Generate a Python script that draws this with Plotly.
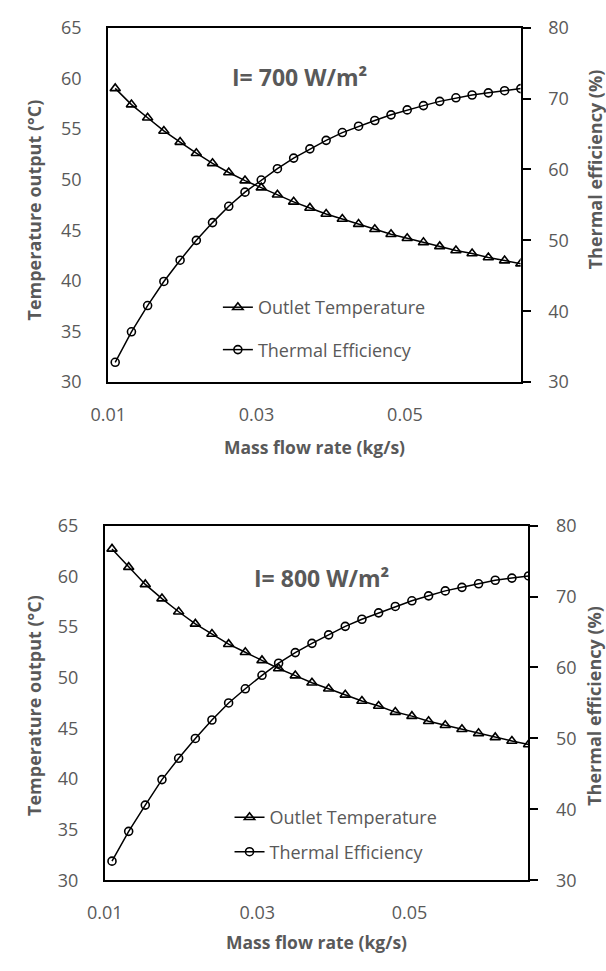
import plotly.graph_objects as go

# ---------------- data ----------------
mass_flow = [0.01094, 0.01313, 0.01531, 0.01750, 0.01969, 0.02188, 0.02406, 0.02625,
             0.02844, 0.03063, 0.03281, 0.03500, 0.03719, 0.03938, 0.04156, 0.04375,
             0.04594, 0.04813, 0.05031, 0.05250, 0.05469, 0.05688, 0.05906, 0.06125,
             0.06344, 0.06563]

temp_700 = [59.0, 57.4, 56.1, 54.8, 53.7, 52.6, 51.6, 50.7, 49.9, 49.2, 48.5, 47.8, 47.2,
            46.6, 46.1, 45.6, 45.1, 44.6, 44.2, 43.8, 43.4, 43.0, 42.7, 42.3, 42.0, 41.7]
eff_700 = [32.8, 37.1, 40.8, 44.2, 47.2, 50.0, 52.5, 54.8, 56.8, 58.5, 60.1, 61.6, 62.9,
           64.1, 65.2, 66.1, 66.9, 67.7, 68.4, 69.0, 69.6, 70.1, 70.5, 70.8, 71.1, 71.4]

temp_800 = [62.7, 60.9, 59.2, 57.8, 56.5, 55.3, 54.3, 53.3, 52.5, 51.7, 50.9, 50.2, 49.5,
            48.9, 48.3, 47.7, 47.2, 46.6, 46.2, 45.7, 45.3, 44.9, 44.5, 44.1, 43.75, 43.4]
eff_800 = [32.7, 36.9, 40.6, 44.2, 47.2, 50.0, 52.6, 55.0, 57.0, 58.9, 60.6, 62.1, 63.4,
           64.6, 65.8, 66.8, 67.7, 68.6, 69.4, 70.1, 70.8, 71.3, 71.8, 72.3, 72.6, 72.9]

x_ticks = [0.01, 0.03, 0.05]
x_tick_labels = ["0.01", "0.03", "0.05"]
temp_ticks = [30, 35, 40, 45, 50, 55, 60, 65]
eff_ticks = [30, 40, 50, 60, 70, 80]

series_names = ["Outlet Temperature", "Thermal Efficiency"]
panel_labels = ["I= 700 W/m²", "I= 800 W/m²"]
x_title = "Mass flow rate (kg/s)"
y_left_title = "Temperature output (°C)"
y_right_title = "Thermal efficiency (%)"

# ---------------- style ----------------
W, H = 606, 971
GRAY = "#595959"
FONT = "Open Sans"
TICK_SIZE = 18


def fx(px):
    return px / W


def fy(px):
    return 1 - px / H


fig = go.Figure()

panels = [
    dict(temp=temp_700, eff=eff_700, xa="x", ya="y", ya2="y2", legend="legend"),
    dict(temp=temp_800, eff=eff_800, xa="x2", ya="y3", ya2="y4", legend="legend2"),
]

for p in panels:
    fig.add_trace(go.Scatter(
        x=mass_flow, y=p["temp"], xaxis=p["xa"], yaxis=p["ya"],
        mode="lines+markers", name=series_names[0], legend=p["legend"],
        legendgroup=p["legend"] + "a",
        line=dict(color="black", width=1.5),
        marker=dict(symbol="triangle-up-open", size=9, color="black",
                    line=dict(color="black", width=1.6)),
    ))
    fig.add_trace(go.Scatter(
        x=mass_flow, y=p["eff"], xaxis=p["xa"], yaxis=p["ya2"],
        mode="lines+markers", name=series_names[1], legend=p["legend"],
        legendgroup=p["legend"] + "b",
        line=dict(color="black", width=1.5),
        marker=dict(symbol="circle-open", size=8, color="black",
                    line=dict(color="black", width=1.6)),
    ))

tickfont = dict(family=FONT, size=TICK_SIZE, color=GRAY)


def xaxis(domain, anchor):
    return dict(domain=domain, anchor=anchor, range=[0.01, 0.0656],
                tickvals=x_ticks, ticktext=x_tick_labels, tickfont=tickfont,
                showline=True, linecolor="black", linewidth=2, mirror=True,
                ticks="", showgrid=False, zeroline=False, ticklabelstandoff=15)


def yleft(domain, anchor):
    return dict(domain=domain, anchor=anchor, range=[30, 65], tickvals=temp_ticks,
                tickfont=tickfont, showline=True, linecolor="black", linewidth=2,
                ticks="", showgrid=False, zeroline=False, ticklabelstandoff=21)


def yright(overlay, anchor):
    return dict(overlaying=overlay, anchor=anchor, side="right", range=[30, 80],
                tickvals=eff_ticks, tickfont=tickfont, showline=True,
                linecolor="black", linewidth=2, ticks="outside", ticklen=8,
                tickwidth=2, tickcolor="black", showgrid=False, zeroline=False,
                ticklabelstandoff=14)


top_x = [fx(93), fx(518)]
top_y = [fy(378.5), fy(15)]
bot_x = [fx(89.5), fx(526)]
bot_y = [fy(889.3), fy(525.6)]

legend_common = dict(xanchor="left", yanchor="top", bgcolor="rgba(0,0,0,0)",
                     font=dict(family=FONT, size=TICK_SIZE, color=GRAY),
                     borderwidth=0)

fig.update_layout(
    width=W, height=H,
    margin=dict(l=0, r=0, t=0, b=0),
    paper_bgcolor="white", plot_bgcolor="white",
    xaxis=xaxis(top_x, "y"),
    yaxis=yleft(top_y, "x"),
    yaxis2=yright("y", "x"),
    xaxis2=xaxis(bot_x, "y3"),
    yaxis3=yleft(bot_y, "x2"),
    yaxis4=yright("y3", "x2"),
    legend=dict(x=fx(206), y=fy(283), tracegroupgap=16, **legend_common),
    legend2=dict(x=fx(218), y=fy(806), tracegroupgap=8, **legend_common),
    showlegend=True,
)

xtitle_font = dict(family=FONT, size=17.5, color=GRAY)
ytitle_font = dict(family=FONT, size=18, color=GRAY)
label_font = dict(family=FONT, size=23, color=GRAY)
ann = []
common = dict(xref="paper", yref="paper", showarrow=False,
              xanchor="center", yanchor="middle")
# panel labels
ann.append(dict(text="<b>" + panel_labels[0] + "</b>", x=fx(290), y=fy(66),
                font=label_font, **common))
ann.append(dict(text="<b>" + panel_labels[1] + "</b>", x=fx(313), y=fy(579),
                font=label_font, **common))
# axis titles
for cx, ty_left, ty_right, ty_x, lx, rx in [
        ((93 + 518) / 2, 202, 160, 445, 16, 595),
        ((89.5 + 526) / 2, 710, 710, 953, 17, 594)]:
    ann.append(dict(text="<b>" + x_title + "</b>", x=fx(cx), y=fy(ty_x),
                    font=xtitle_font, **common))
    ann.append(dict(text="<b>" + y_left_title + "</b>", x=fx(lx), y=fy(ty_left),
                    textangle=-90, font=ytitle_font, **common))
    ann.append(dict(text="<b>" + y_right_title + "</b>", x=fx(rx), y=fy(ty_right),
                    textangle=-90, font=ytitle_font, **common))
fig.update_layout(annotations=ann)

fig.write_html("out.html")
